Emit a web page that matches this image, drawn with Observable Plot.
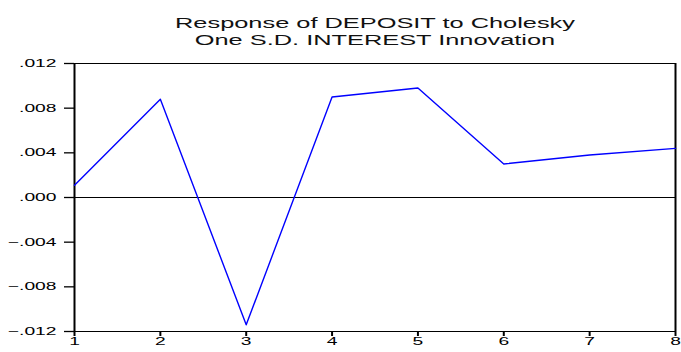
<!DOCTYPE html>
<html>
<head>
<meta charset="utf-8">
<script src="https://cdn.jsdelivr.net/npm/d3@7"></script>
<script src="https://cdn.jsdelivr.net/npm/@observablehq/plot@0.6"></script>
<style>
  html, body { margin: 0; padding: 0; background: #fff; }
  svg { display: block; }
</style>
</head>
<body>
<div id="chart"></div>
<script>
// Impulse response of DEPOSIT to a one S.D. INTEREST shock (Cholesky ordering)
const periods = [1, 2, 3, 4, 5, 6, 7, 8];
const response = [0.0011, 0.0088, -0.0114, 0.0090, 0.0098, 0.0030, 0.0038, 0.0044];
const yTicks = [-0.012, -0.008, -0.004, 0, 0.004, 0.008, 0.012];
const titleLines = ["Response of DEPOSIT to Cholesky", "One S.D. INTEREST Innovation"];

const data = periods.map((p, i) => ({period: p, value: response[i]}));
const fmt = d => d3.format(".3f")(d).replace("0.", ".");

const chart = Plot.plot({
  width: 681,
  height: 352,
  marginLeft: 74,
  marginRight: 6,
  marginTop: 63,
  marginBottom: 21,
  style: {fontFamily: "'Liberation Sans', Arial, sans-serif", fontSize: "11px", color: "#000", background: "#fff"},
  x: {domain: [1, 8]},
  y: {domain: [-0.012, 0.012]},
  marks: [
    Plot.frame({stroke: "#000", strokeWidth: 1}),
    Plot.ruleX([1, 8], {stroke: "#000", strokeWidth: 2}),
    Plot.ruleY([0], {stroke: "#000", strokeWidth: 1}),
    Plot.axisY({ticks: yTicks, tickFormat: fmt, tickSize: 10, tickPadding: 8, label: null, strokeWidth: 1.3}),
    Plot.axisX({ticks: periods, tickFormat: d => String(d), tickSize: 5, tickPadding: 1, label: null, strokeWidth: 2}),
    Plot.line(data, {x: "period", y: "value", stroke: "#0000ff", strokeWidth: 1.4}),
    Plot.text([titleLines[0]], {frameAnchor: "top", dy: -46, fontSize: 14.5, fill: "#111"}),
    Plot.text([titleLines[1]], {frameAnchor: "top", dy: -29, fontSize: 14.5, fill: "#111"})
  ]
});

// Text in this chart is set wide: stretch every label horizontally about its own anchor point.
const sx = 1.75;
d3.select(chart).selectAll("text").each(function() {
  const x = parseFloat(this.getAttribute("x")) || 0;
  const y = parseFloat(this.getAttribute("y")) || 0;
  const base = this.getAttribute("transform") || "";
  this.setAttribute("transform",
    `${base} translate(${x},${y}) scale(${sx},1) translate(${-x},${-y})`);
});

document.getElementById("chart").appendChild(chart);
</script>
</body>
</html>
